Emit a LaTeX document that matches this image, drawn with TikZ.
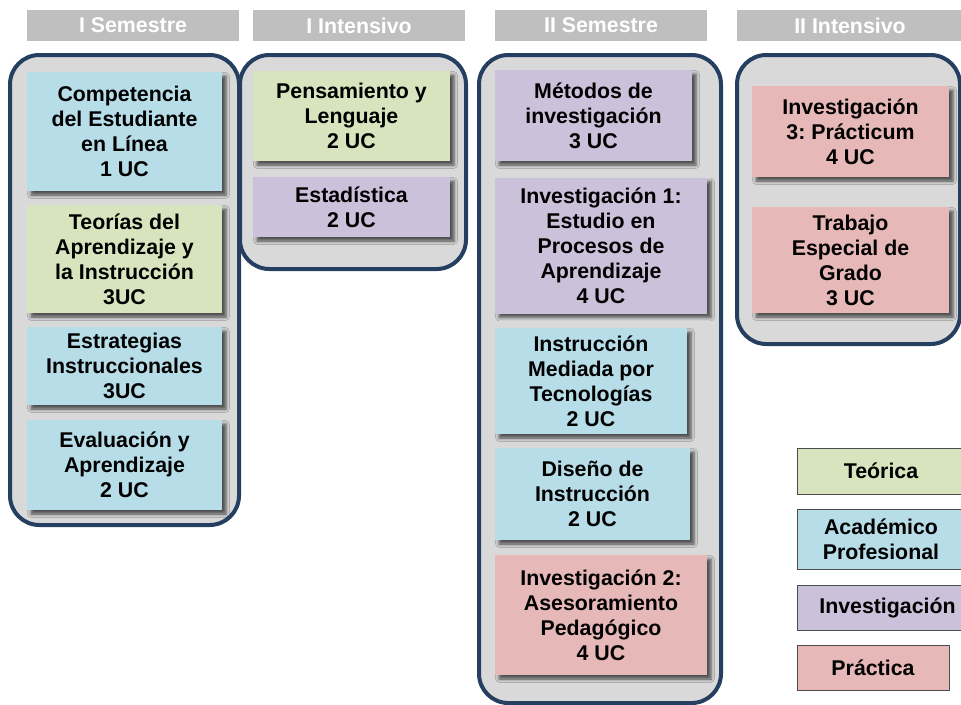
\documentclass[tikz,border=0pt]{standalone}
\usepackage{fontspec}
\setmainfont{Liberation Sans}
\frenchspacing
\usetikzlibrary{shadows.blur}
\definecolor{teoc}{HTML}{D7E4BD}
\definecolor{acac}{HTML}{B7DDE8}
\definecolor{invc}{HTML}{CCC1DA}
\definecolor{prac}{HTML}{E6B9B8}
\definecolor{groupc}{HTML}{D9D9D9}
\definecolor{framec}{HTML}{243F60}
\definecolor{headc}{HTML}{BFBFBF}
\begin{document}
\begin{tikzpicture}[x=0.75pt,y=-0.75pt,
  font=\fontsize{16}{18.75}\selectfont\bfseries,
  box/.style n args={3}{fill=#1, minimum width=#2*0.75pt, minimum height=#3*0.75pt,
    inner sep=0pt, align=center},
  cell/.style={blur shadow={shadow xshift=3pt, shadow yshift=-3pt,
    shadow blur radius=2.5pt, shadow opacity=65}},
  head/.style={fill=headc, text=white, minimum height=31*0.75pt, inner sep=0pt},
  group/.style={draw=framec, line width=3pt, fill=groupc, rounded corners=22pt},
  key/.style={draw=black!70, line width=0.6pt}]
\useasboundingbox (0,0) rectangle (961,704);

% headers
    \node[head, minimum width=212*0.75pt] (h1) at (133,25.5) {I Semestre};
    \node[head, minimum width=212*0.75pt] (h2) at (359,25.5) {I Intensivo};
    \node[head, minimum width=212*0.75pt] (h3) at (601,25.5) {II Semestre};
    \node[head, minimum width=226*0.75pt] (h4) at (850,25.5) {II Intensivo};

% frames
    \coordinate (g1a) at (10,55);
    \coordinate (g1b) at (239,525);
    \coordinate (g2a) at (240,55);
    \coordinate (g2b) at (466,269);
    \coordinate (g3a) at (479,55);
    \coordinate (g3b) at (721,703);
    \coordinate (g4a) at (737,55);
    \coordinate (g4b) at (960,344);

    \draw[group] (g1a) rectangle (g1b);
    \draw[group] (g2a) rectangle (g2b);
    \draw[group] (g3a) rectangle (g3b);
    \draw[group] (g4a) rectangle (g4b);

% I Semestre
    \node[cell, box={acac}{195}{119}] (s11) at (124.5,131.5)
      {Competencia\\del Estudiante\\en Línea\\1 UC};
    \node[cell, box={teoc}{195}{108}] (s12) at (124.5,259)
      {Teorías del\\Aprendizaje y\\la Instrucción\\3UC};
    \node[cell, box={acac}{195}{78}] (s13) at (124.5,366)
      {Estrategias\\Instruccionales\\3UC};
    \node[cell, box={acac}{195}{90}] (s14) at (124.5,465)
      {Evaluación y\\Aprendizaje\\2 UC};

% I Intensivo
    \node[cell, box={teoc}{197}{90}] (i11) at (351.5,116)
      {Pensamiento y\\Lenguaje\\2 UC};
    \node[cell, box={invc}{197}{60}] (i12) at (351.5,207)
      {Estadística\\2 UC};

% II Semestre
    \node[cell, box={invc}{197}{91}] (s21) at (593.5,115.5)
      {Métodos de\\investigación\\3 UC};
    \node[cell, box={invc}{212}{136}] (s22) at (601,245.5)
      {Investigación 1:\\Estudio en\\Procesos de\\Aprendizaje\\4 UC};
    \node[cell, box={acac}{192}{106}] (s23) at (591,381)
      {Instrucción\\Mediada por\\Tecnologías\\2 UC};
    \node[cell, box={acac}{195}{92}] (s24) at (592.5,494)
      {Diseño de\\Instrucción\\2 UC};
    \node[cell, box={prac}{212}{120}] (s25) at (601,615)
      {Investigación 2:\\Asesoramiento\\Pedagógico\\4 UC};

% II Intensivo
    \node[cell, box={prac}{197}{91}] (i21) at (850.5,131.5)
      {Investigación\\3: Prácticum\\4 UC};
    \node[cell, box={prac}{197}{106}] (i22) at (850.5,260)
      {Trabajo\\Especial de\\Grado\\3 UC};

% legend
    \node[key, box={teoc}{168}{46}] (k1) at (881,471) {Teórica};
    \node[key, box={acac}{168}{60}] (k2) at (881,539) {Académico\\Profesional};
    \node[key, box={invc}{181}{45}] (k3) at (887.5,607.5) {Investigación};
    \node[key, box={prac}{152}{45}] (k4) at (873,667.5) {Práctica};

\end{tikzpicture}
\end{document}
